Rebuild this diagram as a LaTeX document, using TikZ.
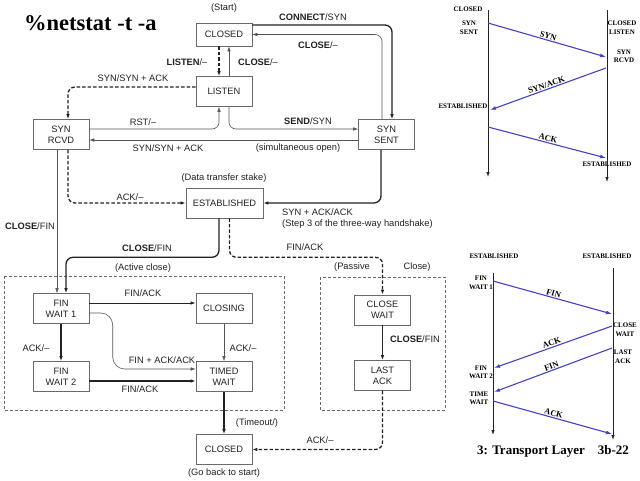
\documentclass[tikz,border=0pt]{standalone}
\usepackage{fontspec}
\setmainfont{Liberation Sans}
\newfontfamily\serifa{Liberation Serif}
\usepackage{xcolor}
\usepackage{tikz}
\usetikzlibrary{positioning, arrows.meta, calc}
\definecolor{grafite}{HTML}{222222}
\definecolor{cinza}{HTML}{555555}
\definecolor{borda}{HTML}{6A6A6A}
\definecolor{anil}{HTML}{4343C4}

\tikzset{
  estado/.style={draw=borda, line width=0.6pt, minimum width=56pt, minimum height=30pt, align=center, inner sep=1pt, text=grafite, font=\fontsize{9.3}{11}\selectfont},
  rotulo/.style={inner sep=0pt, text=grafite, font=\fontsize{9.3}{11}\selectfont},
  grosso/.style={draw=grafite, line width=1.3pt, ->, rounded corners=7pt},
  fino/.style={draw=cinza, line width=0.6pt, ->, rounded corners=7pt},
  tracejado/.style={grosso, dash pattern=on 3.5pt off 2pt},
  moldura/.style={draw=borda, line width=0.7pt, dash pattern=on 3pt off 2pt},
  linha/.style={draw=grafite, line width=0.8pt, -{Latex[length=5pt,width=3.5pt]}},
  msg/.style={draw=anil, line width=1.1pt, -{Latex[length=6pt,width=4pt]}},
  mini/.style={align=center, inner sep=0pt, font=\serifa\bfseries\fontsize{7}{8.5}\selectfont},
  msgrot/.style={sloped, above, inner sep=1pt, font=\serifa\bfseries\fontsize{8.5}{10}\selectfont}
}

\begin{document}
\begin{tikzpicture}[x=1pt, y=-1pt, >={Latex[length=5pt,width=3.5pt]}]
    \fill[white] (0,0) rectangle (640,480);
    \useasboundingbox (0,0) rectangle (640,480);
    \node[anchor=west, inner sep=0pt, font=\serifa\bfseries\fontsize{22.5}{26}\selectfont] (titulo) at (24,23) {\%netstat -t -a};
    \draw[moldura] (4,276) rectangle (284,410);
    \draw[moldura] (320,277) rectangle (445,410);
    \node[estado, minimum height=23pt] (closedtop) at (224,34.5) {CLOSED};
    \node[estado, minimum width=77pt] (established) at (224.5,203) {ESTABLISHED};
    \foreach \n/\p/\t in {listen/{224,91.5}/LISTEN, synrcvd/{61,134.5}/{SYN\\RCVD}, synsent/{386.5,134.5}/{SYN\\SENT},
      finwaitone/{61,308.5}/{FIN\\WAIT 1}, closing/{224,308.5}/CLOSING, finwaittwo/{61,376.5}/{FIN\\WAIT 2},
      timedwait/{224,376.5}/{TIMED\\WAIT}, closedbottom/{224,449.5}/CLOSED, closewait/{382.5,310}/{CLOSE\\WAIT},
      lastack/{382.5,375.5}/{LAST\\ACK}}
      {\node[estado] (\n) at (\p) {\t};}

    \draw[grosso] ($(closedtop.east)+(0,-9.5)$) -| ($(synsent.north)+(5.5,0)$);
    \draw[fino] ($(synsent.north)+(-4.5,0)$) |- (closedtop.east);
    \draw[tracejado] ($(closedtop.south)+(-5,0)$) -- ($(listen.north)+(-5,0)$);
    \draw[fino] ($(listen.north)+(5,0)$) -- ($(closedtop.south)+(5,0)$);
    \draw[tracejado] ($(listen.west)+(0,-4.5)$) -| ($(synrcvd.north)+(7,0)$);
    \draw[fino] ($(synrcvd.east)+(0,-5.5)$) -| ($(listen.south)+(-5,0)$);
    \draw[fino] ($(listen.south)+(5,0)$) |- ($(synsent.west)+(0,-5.5)$);
    \draw[fino] ($(synsent.west)+(0,5.5)$) -- ($(synrcvd.east)+(0,5.5)$);
    \draw[tracejado] ($(synrcvd.south)+(7,0)$) |- (established.west);
    \draw[grosso] ($(synsent.south)+(-5.5,0)$) |- (established.east);
    \draw[fino] ($(synrcvd.south)+(-4,0)$) -- ($(finwaitone.north)+(-4,0)$);
    \draw[grosso] ($(established.south)+(-5.5,0)$) -- ++(0,39) -| ($(finwaitone.north)+(5,0)$);
    \draw[tracejado] ($(established.south)+(5,0)$) -- ++(0,39) -| (closewait.north);
    \draw[grosso, line width=0.9pt] ($(finwaitone.east)+(0,-5.5)$) -- ($(closing.west)+(0,-5.5)$);
    \draw[fino, rounded corners=12pt] ($(finwaitone.east)+(0,4.5)$) -| ($(timedwait.west)+(-83,-7.5)$) -- ($(timedwait.west)+(0,-7.5)$);
    \draw[fino] (closing) -- (timedwait);
    \draw[grosso] (finwaitone) -- (finwaittwo);
    \draw[grosso] ($(finwaittwo.east)+(0,4.5)$) -- ($(timedwait.west)+(0,4.5)$);
    \draw[grosso] (timedwait) -- (closedbottom);
    \draw[grosso] (closewait) -- (lastack);
    \draw[tracejado] (lastack.south) |- (closedbottom.east);

    \foreach \p/\t [count=\i] in {{224,8}/(Start), {313,17}/{\textbf{CONNECT}/SYN}, {318,45}/{\textbf{CLOSE}/--},
      {187,62}/{\textbf{LISTEN}/--}, {258,62}/{\textbf{CLOSE}/--}, {133,78}/{SYN/SYN + ACK}, {143,122}/{RST/--},
      {308,121}/{\textbf{SEND}/SYN}, {168,148}/{SYN/SYN + ACK}, {298,148}/(simultaneous open),
      {224,178}/(Data transfer stake), {130,197}/{ACK/--}, {30,226}/{\textbf{CLOSE}/FIN}, {147,248}/{\textbf{CLOSE}/FIN},
      {305,247}/{FIN/ACK}, {143,268}/(Active close), {352,267}/(Passive, {417,267}/Close), {143,293}/{FIN/ACK},
      {36,348}/{ACK/--}, {243,348}/{ACK/--}, {162,360}/{FIN + ACK/ACK}, {140,389}/{FIN/ACK}, {257,423}/{(Timeout/)},
      {320,440}/{ACK/--}, {224,473}/(Go back to start)}
      {\node[rotulo] (r\i) at (\p) {\t};}
    \node[rotulo, anchor=west] (synackack) at (282,212) {SYN + ACK/ACK};
    \node[rotulo, anchor=west] (passo) at (282,224) {(Step 3 of the three-way handshake)};
    \node[rotulo, anchor=west] (closefin) at (390,339) {\textbf{CLOSE}/FIN};

    \foreach \x/\ya/\yb in {488/10/177, 607/10/182, 493/273/435, 613/268/440}
      {\draw[linha] (\x,\ya) -- (\x,\yb);}
    \foreach \a/\b/\t [count=\i] in {{488,23}/{606,57}/SYN, {606,68}/{490,110}/{SYN/ACK}, {488,127}/{606,158}/ACK,
      {493,281}/{612,314}/FIN, {612,326}/{494,368}/ACK, {612,348}/{494,392}/FIN, {493,401}/{612,434}/ACK}
      {\coordinate (s\i) at (\a); \coordinate (e\i) at (\b); \draw[msg] (s\i) -- node[msgrot] (m\i) {\t} (e\i);}
    \foreach \p/\t [count=\i] in {{468,9}/CLOSED, {469,27.5}/{SYN\\SENT}, {622,27.5}/{CLOSED\\LISTEN}, {624,56}/{SYN\\RCVD},
      {463,106}/ESTABLISHED, {607,164}/ESTABLISHED, {494,256}/ESTABLISHED, {607,256}/ESTABLISHED,
      {481,283}/{FIN\\WAIT 1}, {625,329.5}/{CLOSE\\WAIT}, {623,356.5}/{LAST\\ACK}, {481,372.5}/{FIN\\WAIT 2},
      {479,398.5}/{TIME\\WAIT}}
      {\node[mini] (p\i) at (\p) {\t};}
    \node[font=\serifa\bfseries\fontsize{13}{15}\selectfont, inner sep=0pt] (rodape) at (553,451) {3: Transport Layer\quad 3b-22};
\end{tikzpicture}
\end{document}
